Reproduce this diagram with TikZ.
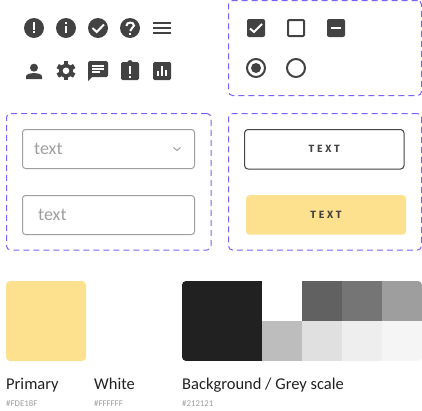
\documentclass[tikz,border=0pt]{standalone}
\usepackage{fontspec}
\setmainfont{Carlito}
\newfontfamily\btnfont{Fira Sans}[LetterSpace=26]
\usepackage{tikz}
\usetikzlibrary{positioning}
\definecolor{ink}{HTML}{424242}
\definecolor{primary}{HTML}{FDE18F}
\definecolor{dashpurple}{HTML}{7B61FF}
\definecolor{fieldgrey}{HTML}{9E9E9E}
\definecolor{darkbg}{HTML}{212121}

\begin{document}
\begin{tikzpicture}[
  x=1pt, y=-1pt,
  panel/.style={draw=dashpurple, dash pattern=on 6pt off 4pt, line width=1pt, rounded corners=4pt,
    inner sep=0pt, outer sep=0pt, anchor=north west},
  field/.style={draw=fieldgrey, line width=1pt, rounded corners=3pt, minimum width=172pt, minimum height=39pt,
    inner sep=0pt, outer sep=0pt, anchor=north west},
  btn/.style={rounded corners=3.5pt, minimum width=160pt, minimum height=39.5pt, inner sep=0pt, outer sep=0pt,
    anchor=north west},
  fieldtext/.style={text=fieldgrey, font=\fontsize{18}{20}\selectfont, inner sep=0pt, anchor=west},
  btntext/.style={text=ink, font=\btnfont\fontsize{10.5}{12}\selectfont\bfseries, inner sep=0pt},
  badge/.style={circle, fill=ink, minimum size=20pt, inner sep=0pt, outer sep=0pt},
  tickbox/.style={rounded corners=2pt, minimum size=18pt, inner sep=0pt, outer sep=0pt},
  radio/.style={circle, draw=ink, line width=2pt, minimum size=18pt, inner sep=0pt, outer sep=0pt},
  swatchname/.style={font=\fontsize{16.5}{19}\selectfont, text=darkbg, inner sep=0pt, anchor=base west},
  swatchhex/.style={font=\fontsize{8.8}{10}\selectfont, text=fieldgrey, inner sep=0pt, anchor=base west},
  glyph/.style={draw=white, line width=2pt},
]
\useasboundingbox (0,0) rectangle (422,410);

% Dashed groups
\node[panel, minimum width=193pt, minimum height=95pt] (groupchecks) at (228.5,0.5) {};
\node[panel, minimum width=204.5pt, minimum height=136.5pt] (groupfields) at (6.5,113.5) {};
\node[panel, minimum width=193pt, minimum height=136.5pt] (groupbuttons) at (228.5,113.5) {};

% Icons, first row
\node[badge] (alert) at (34,28) {};
\draw[glyph] (34,22) -- (34,29.5) (34,30.5) -- (34,33);
\node[badge] (info) at (66,28) {};
\draw[glyph] (66,22) -- (66,24) (66,26) -- (66,33);
\node[badge] (done) at (98,28) {};
\draw[glyph] (92.5,28) -- (96.7,32) -- (104,24.5);
\node[badge] (help) at (130,28) {};
\draw[glyph] (126.3,26) .. controls (126.3,21.5) and (134,21.5) .. (134,25.5) .. controls (134,28.5) and (130.2,27.5) .. (130.2,31);
\draw[glyph] (130.2,32.5) -- (130.2,35);
\draw[ink, line width=2pt] (153,23) -- (171,23) (153,28) -- (171,28) (153,33) -- (171,33);

% Icons, second row
\fill[ink] (34,67.7) circle (4);
\fill[ink] (26,79) -- (26,76.5) .. controls (26,72) and (42,72) .. (42,76.5) -- (42,79) -- cycle;
\foreach \ang in {0,60,120}
  \fill[ink, rotate around={\ang:(66,70.8)}] (63.6,61.3) rectangle (68.4,80.3);
\fill[ink] (66,70.8) circle (7);
\fill[white] (66,70.8) circle (3.3);
\fill[ink, rounded corners=1.5pt] (88,61) rectangle (108,77);
\fill[ink] (88,74) -- (92,77) -- (88,81) -- cycle;
\draw[white, line width=1.8pt] (92,66) -- (104,66) (92,69) -- (104,69) (92,72) -- (100,72);
\fill[ink, rounded corners=1.5pt] (121,62) rectangle (139,80);
\fill[ink] (127.5,63) -- (127.5,62) .. controls (128,59.5) and (132,59.5) .. (132.5,62) -- (132.5,63) -- cycle;
\draw[glyph] (130,66) -- (130,74) (130,75.5) -- (130,77.5);
\fill[ink, rounded corners=1.5pt] (153,62) rectangle (171,80);
\draw[glyph] (158,71) -- (158,76) (162,66) -- (162,76) (166,70) -- (166,76);

% Check boxes and radios
\node[tickbox, fill=ink] (boxon) at (256,28) {};
\draw[glyph] (250,28.5) -- (254,32) -- (262,24);
\node[tickbox, draw=ink, line width=2pt, minimum size=16pt, rounded corners=1pt] (boxoff) at (296,28) {};
\node[tickbox, fill=ink] (boxpart) at (336,28) {};
\draw[glyph] (331,28) -- (341,28);
\node[radio] (radioon) at (256,68) {};
\fill[ink] (radioon.center) circle (5);
\node[radio] (radiooff) at (296,68) {};

% Form fields
\node[field] (selectbox) at (22.5,129.5) {};
\node[fieldtext, right=11.5pt of selectbox.west] (selecttext) {text};
\coordinate (chevron) at (177,149);
\draw[fieldgrey, line width=1pt] ([xshift=-3.5pt,yshift=1.5pt]chevron) -- ([yshift=-1.5pt]chevron) -- ([xshift=3.5pt,yshift=1.5pt]chevron);
\node[field] (inputbox) at (22.5,195.5) {};
\node[fieldtext, right=15.5pt of inputbox.west] (inputtext) {text};

% Buttons
\node[btn, draw=ink, line width=1pt, minimum width=159.5pt] (outlinebtn) at (244.5,129.5) {};
\node[btntext] (outlinetext) at (outlinebtn.center) {TEXT};
\node[btn, fill=primary] (primarybtn) at (246,195.2) {};
\node[btntext] (primarytext) at (primarybtn.center) {TEXT};

% Colour swatches
\fill[primary, rounded corners=4pt] (6,281) rectangle (86,361);
\begin{scope}
  \clip[rounded corners=4pt] (182,281) rectangle (422,361);
  \fill[darkbg] (182,281) rectangle (262,361);
  \foreach \tilex/\tilecol in {302/616161,342/757575,382/9E9E9E} {
    \definecolor{tilecol}{HTML}{\tilecol}
    \fill[tilecol] (\tilex,281) rectangle +(40,40);
  }
  \foreach \tilex/\tilecol in {262/BDBDBD,302/E0E0E0,342/EEEEEE,382/F5F5F5} {
    \definecolor{tilecol}{HTML}{\tilecol}
    \fill[tilecol] (\tilex,321) rectangle +(40,40);
  }
\end{scope}

% Labels
\node[swatchname] (primaryname) at (6,389) {Primary};
\node[swatchhex] (primaryhex) at (6,406) {\#FDE18F};
\node[swatchname] (whitename) at (94,389) {White};
\node[swatchhex] (whitehex) at (94,406) {\#FFFFFF};
\node[swatchname] (bgname) at (182,389) {Background / Grey scale};
\node[swatchhex] (bghex) at (182,406) {\#212121};
\end{tikzpicture}
\end{document}
